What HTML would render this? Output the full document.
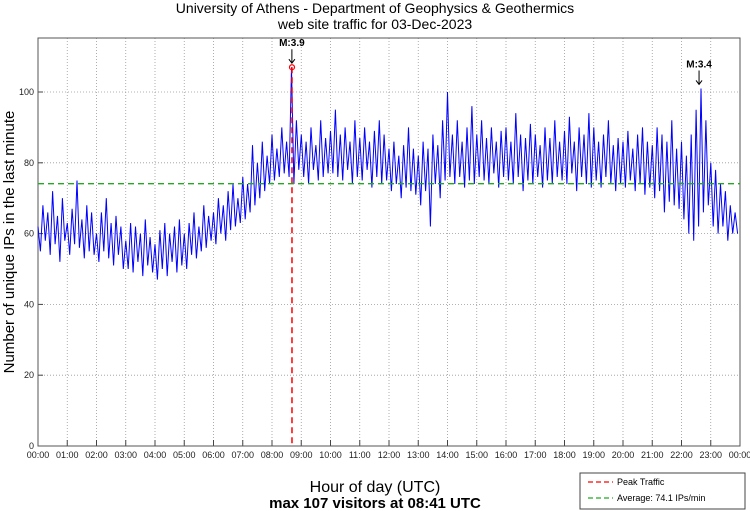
<!DOCTYPE html>
<html><head><meta charset="utf-8"><style>
body{margin:0;background:#fff;}
svg{display:block;font-family:"Liberation Sans",sans-serif;}
</style></head><body>
<svg id="c" width="750" height="511">
<text x="375" y="13" text-anchor="middle" font-size="14">University of Athens - Department of Geophysics &amp; Geothermics</text>
<text x="375" y="29" text-anchor="middle" font-size="14">web site traffic for 03-Dec-2023</text>
<text transform="translate(14,242) rotate(-90)" text-anchor="middle" font-size="15">Number of unique IPs in the last minute</text>
<text x="375" y="492" text-anchor="middle" font-size="16">Hour of day (UTC)</text>
<text x="375" y="508" text-anchor="middle" font-size="15" font-weight="bold">max 107 visitors at 08:41 UTC</text>
<g id="grid"></g><g id="series"></g><g id="overlay"></g>
<g>
<rect x="580" y="473" width="165" height="36" fill="#fff" stroke="#444"/>
<line x1="588" y1="482" x2="613" y2="482" stroke="red" stroke-dasharray="5,3" stroke-width="1.3"/>
<text x="617" y="485" font-size="9">Peak Traffic</text>
<line x1="588" y1="498" x2="613" y2="498" stroke="#2a2" stroke-dasharray="5,3" stroke-width="1.3"/>
<text x="617" y="501" font-size="9">Average: 74.1 IPs/min</text>
</g>
</svg>
<script>
const values=[62,55,68,58,66,54,72,57,65,52,70,58,
63,54,67,57,75,56,64,53,68,55,66,54,
60,52,66,55,70,53,63,51,65,54,62,50,
58,50,63,49,62,52,60,48,64,51,59,49,
57,47,61,50,63,48,60,52,62,49,64,51,
60,50,63,54,66,53,62,55,68,56,65,58,
66,57,70,60,68,58,72,61,74,62,70,63,
76,64,74,66,85,68,80,70,86,72,82,74,
88,75,84,76,90,77,86,76,107,74,92,78,
88,76,86,74,90,78,85,75,92,76,87,77,
89,77,95,76,88,75,90,78,86,74,92,76,
87,75,90,78,86,73,89,76,92,74,88,75,
84,72,86,74,82,70,85,73,90,72,84,71,
82,68,86,72,84,62,88,74,85,70,92,75,
100,76,88,74,92,76,86,73,90,75,96,74,
88,76,92,75,87,74,90,77,86,73,89,76,
90,75,86,74,94,76,88,72,87,75,91,74,
88,76,85,73,90,75,87,74,92,76,86,75,
89,74,93,77,86,72,90,76,88,74,94,73,
90,75,86,73,88,76,92,74,85,72,87,74,
86,73,89,75,84,72,88,74,90,71,86,73,
85,70,90,72,88,66,86,69,92,68,84,67,
86,64,82,60,88,58,95,62,101,66,92,68,
80,62,78,60,74,62,72,58,68,60,66,60];
const yTicks=[0,20,40,60,80,100];
const xTickLabels=["00:00","01:00","02:00","03:00","04:00","05:00","06:00","07:00","08:00","09:00","10:00","11:00","12:00","13:00","14:00","15:00","16:00","17:00","18:00","19:00","20:00","21:00","22:00","23:00","00:00"];
const average=74.1;
const peakHour=8+41/60, peakValue=107;
const marks=[{label:"M:3.9",hour:8.68,value:107},{label:"M:3.4",hour:22.6,value:101}];
const L=38,R=740,T=38,B=446;
const sx=h=>L+h/24*(R-L);
const sy=v=>B-v*3.54;
const NS="http://www.w3.org/2000/svg";
function mk(tag,at,parent){const e=document.createElementNS(NS,tag);for(const k in at)e.setAttribute(k,at[k]);parent.appendChild(e);return e;}
const g=document.getElementById('grid'),s=document.getElementById('series'),o=document.getElementById('overlay');
xTickLabels.forEach((t,i)=>{const x=sx(i);
 if(i>0&&i<24){const l=mk('line',{x1:x,y1:T,x2:x,y2:B,stroke:'#999','stroke-dasharray':'1,2','stroke-width':0.8},g);}
 const tk=mk('line',{x1:x,y1:B,x2:x,y2:B-6,stroke:'#444'},g);
 const tt=mk('text',{x:x,y:B+12,'text-anchor':'middle','font-size':9,fill:'#222'},g);tt.textContent=t;
 });
yTicks.forEach(v=>{const y=sy(v);
 if(v>0){const l=mk('line',{x1:L,y1:y,x2:R,y2:y,stroke:'#999','stroke-dasharray':'1,2','stroke-width':0.8},g);}
 const tk=mk('line',{x1:L,y1:y,x2:L+5,y2:y,stroke:'#444'},g);
 const tt=mk('text',{x:L-4,y:y+3,'text-anchor':'end','font-size':9,fill:'#222'},g);tt.textContent=v;
 });
const fr=mk('rect',{x:L,y:T,width:R-L,height:B-T,fill:'none',stroke:'#555'},g);

const pts=values.map((v,i)=>sx(i*24/values.length).toFixed(1)+','+sy(v).toFixed(1)).join(' ');
const pl=mk('polyline',{points:pts,fill:'none',stroke:'#0000ff','stroke-width':1},s);

const av=mk('line',{x1:L,y1:sy(average),x2:R,y2:sy(average),stroke:'#2a2','stroke-dasharray':'6,4','stroke-width':1.3},o);

const pk=mk('line',{x1:sx(peakHour),y1:sy(peakValue),x2:sx(peakHour),y2:B,stroke:'red','stroke-dasharray':'6,4','stroke-width':1.5},o);

const pc=mk('circle',{cx:sx(peakHour),cy:sy(peakValue),r:2.5,fill:'none',stroke:'red','stroke-width':1.2},o);

marks.forEach(m=>{const x=sx(m.hour),y=sy(m.value)-4;
 const a=mk('path',{d:`M${x},${y-14}V${y} M${x-3},${y-4}L${x},${y}L${x+3},${y-4}`,stroke:'#000',fill:'none','stroke-width':1},o);
 
 const t=mk('text',{x:x,y:y-17,'text-anchor':'middle','font-size':10,'font-weight':'bold'},o);t.textContent=m.label;
 });
</script>
</body></html>
